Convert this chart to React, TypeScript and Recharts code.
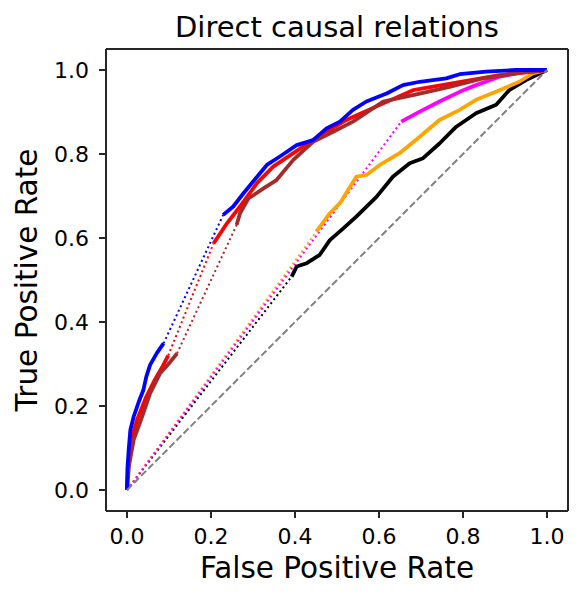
import { LineChart, Line, XAxis, YAxis, Label } from 'recharts';

// ROC curves; each curve breaks into a dotted jump at `gap`
const blueFpr = [0, 0.001, 0.004, 0.008, 0.016, 0.028, 0.039, 0.046, 0.055, 0.071, 0.087, 0.229, 0.253, 0.277, 0.333, 0.364, 0.404, 0.443, 0.475, 0.507, 0.538, 0.57, 0.618, 0.657, 0.697, 0.76, 0.792, 0.855, 0.926, 1];
const blueTpr = [0, 0.05, 0.095, 0.143, 0.175, 0.21, 0.238, 0.27, 0.298, 0.326, 0.349, 0.655, 0.675, 0.706, 0.774, 0.794, 0.821, 0.833, 0.861, 0.877, 0.905, 0.925, 0.944, 0.964, 0.972, 0.98, 0.99, 0.996, 1.0, 1];
const blueGap = 10;

const redFpr = [0, 0.003, 0.01, 0.025, 0.045, 0.065, 0.085, 0.098, 0.206, 0.238, 0.269, 0.309, 0.348, 0.396, 0.443, 0.522, 0.602, 0.681, 0.784, 0.887, 1];
const redTpr = [0, 0.06, 0.12, 0.17, 0.22, 0.26, 0.295, 0.32, 0.587, 0.635, 0.675, 0.73, 0.77, 0.802, 0.833, 0.881, 0.917, 0.952, 0.97, 0.988, 1];
const redGap = 7;

const brownFpr = [0, 0.005, 0.016, 0.036, 0.055, 0.079, 0.103, 0.119, 0.261, 0.269, 0.289, 0.325, 0.356, 0.396, 0.443, 0.491, 0.538, 0.61, 0.681, 0.768, 0.847, 0.926, 1];
const brownTpr = [0, 0.06, 0.12, 0.175, 0.23, 0.278, 0.305, 0.325, 0.631, 0.659, 0.694, 0.718, 0.738, 0.786, 0.829, 0.853, 0.877, 0.925, 0.94, 0.96, 0.98, 0.992, 1];
const brownGap = 7;

const magentaFpr = [0, 0.653, 0.697, 0.744, 0.792, 0.831, 0.887, 0.95, 1];
const magentaTpr = [0, 0.877, 0.901, 0.925, 0.948, 0.964, 0.984, 0.996, 1];
const magentaGap = 0;

const orangeFpr = [0, 0.451, 0.483, 0.507, 0.546, 0.57, 0.602, 0.649, 0.697, 0.744, 0.792, 0.831, 0.887, 0.934, 0.966, 1];
const orangeTpr = [0, 0.615, 0.659, 0.683, 0.746, 0.75, 0.774, 0.802, 0.841, 0.881, 0.905, 0.929, 0.952, 0.972, 0.992, 1];
const orangeGap = 0;

const blackFpr = [0, 0.392, 0.404, 0.428, 0.459, 0.483, 0.515, 0.546, 0.594, 0.633, 0.673, 0.705, 0.744, 0.784, 0.831, 0.879, 0.91, 0.95, 1];
const blackTpr = [0, 0.508, 0.532, 0.54, 0.56, 0.595, 0.623, 0.651, 0.698, 0.746, 0.778, 0.79, 0.825, 0.865, 0.897, 0.917, 0.952, 0.976, 1];
const blackGap = 0;

const chanceFpr = [0, 1];
const chanceTpr = [0, 1];

const ticks = [0, 0.2, 0.4, 0.6, 0.8, 1.0];
const FONT = '"DejaVu Sans", sans-serif';
const FRAME = '#262626';

type Pt = { x: number; y: number | null };

const toPoints = (xs: number[], ys: number[]): Pt[] => xs.map((x, i) => ({ x, y: ys[i] }));

// solid parts with a null break at the gap, and the dotted jump across it
const splitCurve = (xs: number[], ys: number[], gap: number) => {
    const pts = toPoints(xs, ys);
    const solid: Pt[] = [
        ...pts.slice(0, gap + 1),
        { x: (pts[gap].x + pts[gap + 1].x) / 2, y: null },
        ...pts.slice(gap + 1),
    ];
    const dotted = [pts[gap], pts[gap + 1]];
    return { solid, dotted };
};

const curves = [
    { name: 'black', color: '#000000', ...splitCurve(blackFpr, blackTpr, blackGap) },
    { name: 'orange', color: '#ffa500', ...splitCurve(orangeFpr, orangeTpr, orangeGap) },
    { name: 'magenta', color: '#ff00ff', ...splitCurve(magentaFpr, magentaTpr, magentaGap) },
    { name: 'red', color: '#ff0000', ...splitCurve(redFpr, redTpr, redGap) },
    { name: 'brown', color: '#a52a2a', ...splitCurve(brownFpr, brownTpr, brownGap) },
    { name: 'blue', color: '#0000ff', ...splitCurve(blueFpr, blueTpr, blueGap) },
];

const App = () => {
    return (
        <LineChart
            width={578}
            height={593}
            margin={{ top: 0, right: 0, left: 0, bottom: 0 }}
            style={{ fontFamily: FONT }}
        >
            <XAxis
                xAxisId={0}
                dataKey="x"
                type="number"
                domain={[-0.05, 1.05]}
                ticks={ticks}
                tickFormatter={(v: number) => v.toFixed(1)}
                allowDataOverflow
                height={90}
                stroke={FRAME}
                axisLine={{ stroke: FRAME, strokeWidth: 2 }}
                tickLine={{ stroke: FRAME, strokeWidth: 2 }}
                tickSize={7}
                tickMargin={10}
                tick={{ fill: '#000', fontSize: 22, fontFamily: FONT }}
            >
                <Label
                    content={() => (
                        <text x={329} y={570} textAnchor="middle" fontSize={29.5} fontFamily={FONT} fill="#000">
                            False Positive Rate
                        </text>
                    )}
                />
            </XAxis>
            <XAxis
                xAxisId="top"
                orientation="top"
                type="number"
                domain={[-0.05, 1.05]}
                height={41}
                tick={false}
                tickLine={false}
                axisLine={{ stroke: FRAME, strokeWidth: 2 }}
            >
                <Label
                    content={() => (
                        <text x={329} y={29} textAnchor="middle" fontSize={29} fontFamily={FONT} fill="#000">
                            Direct causal relations
                        </text>
                    )}
                />
            </XAxis>
            <YAxis
                yAxisId={0}
                type="number"
                domain={[-0.05, 1.05]}
                ticks={ticks}
                tickFormatter={(v: number) => v.toFixed(1)}
                allowDataOverflow
                width={98}
                axisLine={{ stroke: FRAME, strokeWidth: 2 }}
                tickLine={{ stroke: FRAME, strokeWidth: 2 }}
                tickSize={7}
                tickMargin={10}
                tick={{ fill: '#000', fontSize: 22, fontFamily: FONT }}
            >
                <Label
                    content={() => (
                        <text
                            x={29}
                            y={272}
                            transform="rotate(-90, 29, 272)"
                            textAnchor="middle"
                            fontSize={29.5}
                            fontFamily={FONT}
                            fill="#000"
                        >
                            True Positive Rate
                        </text>
                    )}
                />
            </YAxis>
            <YAxis
                yAxisId="right"
                orientation="right"
                type="number"
                domain={[-0.05, 1.05]}
                width={18}
                tick={false}
                tickLine={false}
                axisLine={{ stroke: FRAME, strokeWidth: 2 }}
            />
            {curves.map((c) => (
                <Line
                    key={`${c.name}-dotted`}
                    data={c.dotted}
                    dataKey="y"
                    type="linear"
                    stroke={c.color}
                    strokeWidth={2}
                    strokeDasharray="2 3"
                    dot={false}
                    activeDot={false}
                    isAnimationActive={false}
                />
            ))}
            {curves.map((c) => (
                <Line
                    key={`${c.name}-solid`}
                    data={c.solid}
                    dataKey="y"
                    type="linear"
                    stroke={c.color}
                    strokeWidth={3.8}
                    strokeLinejoin="round"
                    dot={false}
                    activeDot={false}
                    isAnimationActive={false}
                />
            ))}
            <Line
                data={toPoints(chanceFpr, chanceTpr)}
                dataKey="y"
                type="linear"
                stroke="#808080"
                strokeWidth={2}
                strokeDasharray="7 3"
                dot={false}
                activeDot={false}
                isAnimationActive={false}
            />
        </LineChart>
    );
};

export default App;
